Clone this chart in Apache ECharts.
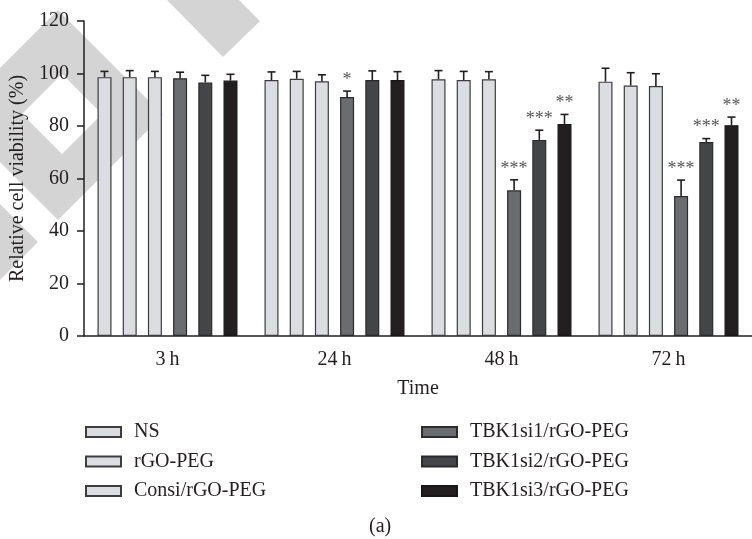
<!DOCTYPE html>
<html>
<head>
	<meta charset="utf-8">
	<title>Relative cell viability</title>
	<script src="https://cdn.jsdelivr.net/npm/echarts@6/dist/echarts.min.js"></script>
	<style type="text/css">
		html, body { margin: 0; padding: 0; background: #fff; }
		#chart_box { width: 752px; height: 539px; }
	</style>
</head>
<body>
	<div id="chart_box"></div>
<script type="text/javascript">
	// categories and groups
	var timeLabels = ['3\u2009h', '24\u2009h', '48\u2009h', '72\u2009h'];
	var groupNames = ['NS', 'rGO-PEG', 'Consi/rGO-PEG', 'TBK1si1/rGO-PEG', 'TBK1si2/rGO-PEG', 'TBK1si3/rGO-PEG'];

	// mean values (%) per group, one per time point
	var nsMean      = [98.6, 97.5, 97.8, 96.9];
	var rgoMean     = [98.6, 98.0, 97.5, 95.4];
	var consiMean   = [98.6, 97.0, 97.8, 95.2];
	var si1Mean     = [98.2, 91.0, 55.5, 53.3];
	var si2Mean     = [96.6, 97.5, 74.7, 73.9];
	var si3Mean     = [97.3, 97.5, 80.8, 80.3];

	// error bar (upper) lengths
	var nsErr    = [2.2, 3.1, 3.3, 5.1];
	var rgoErr   = [2.5, 2.8, 3.3, 4.9];
	var consiErr = [2.2, 2.5, 2.9, 4.7];
	var si1Err   = [2.3, 2.3, 4.0, 6.1];
	var si2Err   = [2.7, 3.5, 3.7, 1.3];
	var si3Err   = [2.4, 3.2, 3.6, 3.1];

	// significance marks
	var nsStar    = ['', '', '', ''];
	var rgoStar   = ['', '', '', ''];
	var consiStar = ['', '', '', ''];
	var si1Star   = ['', '*', '***', '***'];
	var si2Star   = ['', '', '***', '***'];
	var si3Star   = ['', '', '**', '**'];

	var yTicks = [0, 20, 40, 60, 80, 100, 120];

	var means = [nsMean, rgoMean, consiMean, si1Mean, si2Mean, si3Mean];
	var errs  = [nsErr, rgoErr, consiErr, si1Err, si2Err, si3Err];
	var stars = [nsStar, rgoStar, consiStar, si1Star, si2Star, si3Star];

	var fills   = ['#dcdde0', '#dcdde0', '#dcdde0', '#6b6c70', '#444547', '#231f20'];
	var borders = ['#3d3d3f', '#3d3d3f', '#3d3d3f', '#2b2b2d', '#2b2b2d', '#1a1718'];
	var serif = '"Liberation Serif", "DejaVu Serif", serif';
	var ink = '#231f20';

	var BAR_W = 14;
	var PITCH = 25.2;   // bar width + gap

	var series = [];
	for (var s = 0; s < groupNames.length; s++) {
		series.push({
			name: groupNames[s],
			type: 'bar',
			barWidth: BAR_W,
			barGap: '80%',
			itemStyle: {
				color: fills[s],
				borderColor: borders[s],
				borderWidth: 1.2
			},
			z: 2,
			data: means[s]
		});
	}

	// error bars + stars, drawn on top of the bars
	var errData = [];
	var errInfo = [];
	for (var s = 0; s < groupNames.length; s++) {
		for (var c = 0; c < timeLabels.length; c++) {
			errData.push([c, means[s][c] + errs[s][c]]);
			errInfo.push({ g: s, mean: means[s][c], star: stars[s][c] });
		}
	}

	series.push({
		type: 'custom',
		name: 'err',
		z: 5,
		silent: true,
		renderItem: function (params, api) {
			var info = errInfo[params.dataIndex];
			var c = api.value(0);
			var off = (info.g - (groupNames.length - 1) / 2) * PITCH;
			var base = api.coord([c, info.mean]);
			var top = api.coord([c, api.value(1)]);
			var x = base[0] + off;
			var style = { stroke: ink, lineWidth: 1.6 };
			var kids = [
				{ type: 'line', shape: { x1: x, y1: base[1], x2: x, y2: top[1] }, style: style },
				{ type: 'line', shape: { x1: x - 4, y1: top[1], x2: x + 4, y2: top[1] }, style: style }
			];
			if (info.star) {
				kids.push({
					type: 'text',
					style: {
						text: info.star, x: x, y: top[1] - 2,
						align: 'center', verticalAlign: 'bottom',
						font: '18px ' + serif, fill: '#555'
					}
				});
			}
			return { type: 'group', children: kids };
		},
		data: errData
	});

	var chart = echarts.init(document.getElementById('chart_box'));

	var legendText = { fontFamily: serif, fontSize: 20, lineHeight: 20, color: ink, padding: [0, 0, 0, 8] };

	var option = {
		backgroundColor: '#fff',
		animation: false,
		title: {
			text: '(a)',
			left: 369,
			top: 517,
			padding: 0,
			textStyle: { fontFamily: serif, fontSize: 20, fontWeight: 'normal', color: ink }
		},
		// light watermark behind the plot
		graphic: [
			{ type: 'polygon', z: -10, shape: { points: [[58, 10], [163, 115], [58, 220], [-47, 115]] }, style: { fill: '#d4d4d4' } },
			{ type: 'polygon', z: -9, shape: { points: [[62, 74], [102, 114], [62, 154], [22, 114]] }, style: { fill: '#fff' } },
			{ type: 'polygon', z: -10, shape: { points: [[167, 0], [239, 0], [260, 21], [223, 57]] }, style: { fill: '#d4d4d4' } },
			{ type: 'polygon', z: -10, shape: { points: [[0, 204], [38, 242], [0, 280]] }, style: { fill: '#d4d4d4' } }
		],
		legend: [{
			data: groupNames.slice(0, 3),
			orient: 'vertical',
			left: 85,
			top: 422,
			padding: 0,
			icon: 'rect',
			itemWidth: 35,
			itemHeight: 10,
			itemGap: 9.5,
			selectedMode: false,
			textStyle: legendText
		}, {
			data: groupNames.slice(3),
			orient: 'vertical',
			left: 421,
			top: 422,
			padding: 0,
			icon: 'rect',
			itemWidth: 35,
			itemHeight: 10,
			itemGap: 9.5,
			selectedMode: false,
			textStyle: legendText
		}],
		grid: {
			left: 84,
			right: -9,
			top: 21,
			bottom: 203
		},
		xAxis: {
			type: 'category',
			data: timeLabels,
			name: 'Time',
			nameLocation: 'middle',
			nameGap: 43,
			nameTextStyle: { fontFamily: serif, fontSize: 20, color: ink },
			axisLine: { lineStyle: { color: ink, width: 1.5 } },
			axisTick: { alignWithLabel: true, length: 7, lineStyle: { color: ink, width: 1.5 } },
			axisLabel: { fontFamily: serif, fontSize: 20, color: ink, margin: 14 },
			splitLine: { show: false }
		},
		yAxis: {
			type: 'value',
			min: yTicks[0],
			max: yTicks[yTicks.length - 1],
			interval: yTicks[1] - yTicks[0],
			name: 'Relative cell viability (%)',
			nameLocation: 'middle',
			nameRotate: 90,
			nameGap: 44,
			nameTextStyle: { fontFamily: serif, fontSize: 20, color: ink },
			axisLine: { show: true, lineStyle: { color: ink, width: 1.5 } },
			axisTick: { show: true, length: 7, lineStyle: { color: ink, width: 1.5 } },
			axisLabel: { fontFamily: serif, fontSize: 20, color: ink, margin: 15 },
			splitLine: { show: false }
		},
		series: series
	};

	chart.setOption(option);
</script>
</body>
</html>
